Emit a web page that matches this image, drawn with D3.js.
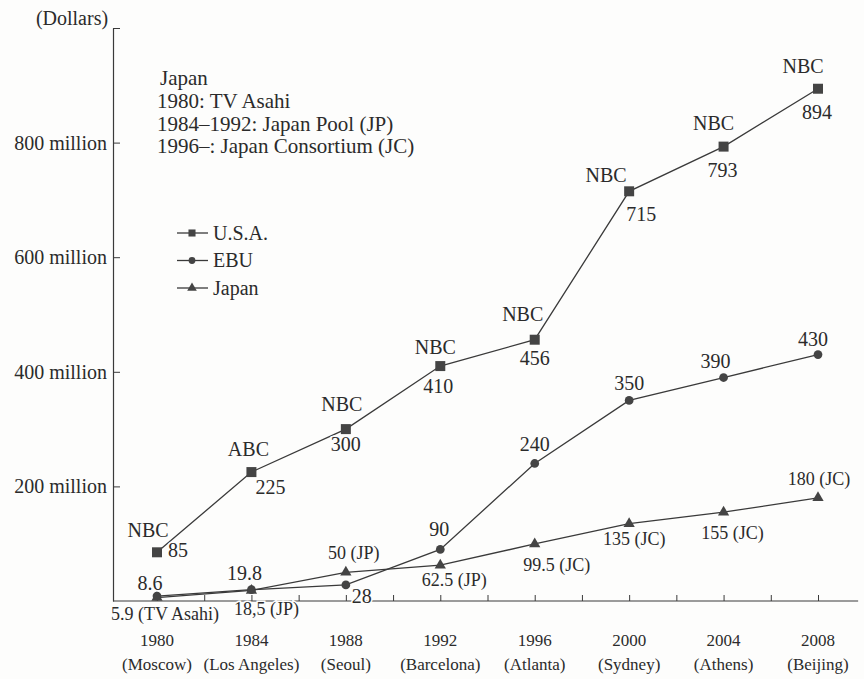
<!DOCTYPE html>
<html>
<head>
<meta charset="utf-8">
<script src="https://cdn.jsdelivr.net/npm/d3@7"></script>
<style>
  body { margin: 0; background: #fdfdfc; }
  svg { display: block; }
  text { font-family: "Liberation Serif", "DejaVu Serif", serif; fill: #2b2b2b; }
</style>
</head>
<body>
<div id="chart"></div>
<script>
// Olympic TV rights (million dollars)
const years = [1980, 1984, 1988, 1992, 1996, 2000, 2004, 2008];
const cities = ["Moscow", "Los Angeles", "Seoul", "Barcelona", "Atlanta", "Sydney", "Athens", "Beijing"];
const usaValues = [85, 225, 300, 410, 456, 715, 793, 894];
const usaNetworks = ["NBC", "ABC", "NBC", "NBC", "NBC", "NBC", "NBC", "NBC"];
const ebuValues = [8.6, 19.8, 28, 90, 240, 350, 390, 430];
const japanValues = [5.9, 18.5, 50, 62.5, 99.5, 135, 155, 180];
const japanLabels = ["5.9 (TV Asahi)", "18,5 (JP)", "50 (JP)", "62.5 (JP)", "99.5 (JC)", "135 (JC)", "155 (JC)", "180 (JC)"];
const yTickValues = [200, 400, 600, 800, 1000];
const noteLines = ["Japan", "1980: TV Asahi", "1984\u20131992: Japan Pool (JP)", "1996\u2013: Japan Consortium (JC)"];

// label placement relative to each point (dx, dy of text centre)
const usaNetOffsets = [[-9,-22],[-3,-23],[-4,-25],[-5,-19],[-12,-25],[-23,-16],[-10,-23],[-15,-22]];
const usaValOffsets = [[21,-2],[19,15],[0,15],[-2,20],[0,19],[12,23],[-1,24],[-1,24]];
const ebuOffsets = [[-7,-13],[-7,-16],[16,11],[-1,-20],[0,-19],[0,-17],[-8,-16],[-5,-15]];
const japanOffsets = [[8,16],[15,19],[8,-19],[14,15],[22,21],[5,15],[9,21],[1,-19]];

const width = 864, height = 679;
const ink = "#3a3a3a";

const svg = d3.select("#chart").append("svg")
  .attr("width", width)
  .attr("height", height);

const x = d3.scaleLinear().domain([1980, 2008]).range([157, 818]);
const y = d3.scaleLinear().domain([0, 1000]).range([601, 28]);
const axisX = 113;

// x axis: line plus small upward ticks every two years
svg.append("line")
  .attr("x1", axisX).attr("x2", x(2009.7))
  .attr("y1", y(0)).attr("y2", y(0))
  .attr("stroke", ink).attr("stroke-width", 1.2);

const xAxis = svg.append("g")
  .attr("transform", `translate(0,${y(0)})`)
  .call(d3.axisBottom(x)
    .tickValues(d3.range(1980, 2009, 2))
    .tickSizeInner(-6)
    .tickSizeOuter(0)
    .tickFormat(""));
xAxis.select(".domain").remove();
xAxis.selectAll("line").attr("stroke", ink);

// year and city labels
svg.append("g").selectAll("text")
  .data(years)
  .join("text")
  .attr("x", d => x(d))
  .attr("y", 646)
  .attr("text-anchor", "middle")
  .attr("font-size", 17)
  .text(d => d);

svg.append("g").selectAll("text")
  .data(cities)
  .join("text")
  .attr("x", (d, i) => x(years[i]))
  .attr("y", 670)
  .attr("text-anchor", "middle")
  .attr("font-size", 17)
  .text(d => `(${d})`);

// y axis with inward ticks
const yAxis = svg.append("g")
  .attr("transform", `translate(${axisX},0)`)
  .call(d3.axisLeft(y)
    .tickValues(yTickValues)
    .tickSizeInner(-7)
    .tickSizeOuter(0)
    .tickPadding(6)
    .tickFormat(d => d === 1000 ? "" : `${d} million`));
yAxis.select(".domain").attr("stroke", ink).attr("stroke-width", 1.2);
yAxis.selectAll("line").attr("stroke", ink);
yAxis.selectAll("text")
  .attr("font-size", 20)
  .attr("fill", "#2b2b2b")
  .attr("font-family", "Liberation Serif, serif");

svg.append("text")
  .attr("x", 72).attr("y", 25)
  .attr("text-anchor", "middle")
  .attr("font-size", 20)
  .text("(Dollars)");

// note about Japanese broadcasters
svg.append("g").selectAll("text")
  .data(noteLines)
  .join("text")
  .attr("x", (d, i) => i === 0 ? 160 : 157)
  .attr("y", (d, i) => 85 + i * 22.8)
  .attr("font-size", 21)
  .text(d => d);

// series
const series = [
  { name: "U.S.A.", values: usaValues, symbol: d3.symbolSquare, size: 100, legendSize: 50 },
  { name: "EBU", values: ebuValues, symbol: d3.symbolCircle, size: 60, legendSize: 36 },
  { name: "Japan", values: japanValues, symbol: d3.symbolTriangle, size: 55, legendSize: 40 }
];

const line = d3.line()
  .x((d, i) => x(years[i]))
  .y(d => y(d));

series.forEach(s => {
  svg.append("path")
    .datum(s.values)
    .attr("fill", "none")
    .attr("stroke", ink)
    .attr("stroke-width", 1.3)
    .attr("d", line);

  svg.append("g").selectAll("path")
    .data(s.values)
    .join("path")
    .attr("transform", (d, i) => `translate(${x(years[i])},${y(d)})`)
    .attr("d", d3.symbol().type(s.symbol).size(s.size))
    .attr("fill", "#444");
});

// data labels
function addLabels(texts, values, offsets, size) {
  svg.append("g").selectAll("text")
    .data(texts)
    .join("text")
    .attr("x", (d, i) => x(years[i]) + offsets[i][0])
    .attr("y", (d, i) => y(values[i]) + offsets[i][1])
    .attr("dy", "0.33em")
    .attr("text-anchor", "middle")
    .attr("font-size", size)
    .attr("stroke", "#fdfdfc")
    .attr("stroke-width", 3)
    .attr("paint-order", "stroke")
    .text(d => d);
}

addLabels(usaNetworks, usaValues, usaNetOffsets, 20);
addLabels(usaValues, usaValues, usaValOffsets, 20);
addLabels(ebuValues, ebuValues, ebuOffsets, 20);
addLabels(japanLabels, japanValues, japanOffsets, 18);

// legend
const legend = svg.append("g");
series.forEach((s, i) => {
  const ly = 233 + i * 27.5;
  legend.append("line")
    .attr("x1", 177).attr("x2", 208)
    .attr("y1", ly).attr("y2", ly)
    .attr("stroke", ink).attr("stroke-width", 1.3);
  legend.append("path")
    .attr("transform", `translate(192,${ly})`)
    .attr("d", d3.symbol().type(s.symbol).size(s.legendSize))
    .attr("fill", "#444");
  legend.append("text")
    .attr("x", 213).attr("y", ly)
    .attr("dy", "0.33em")
    .attr("font-size", 20)
    .text(s.name);
});
</script>
</body>
</html>
